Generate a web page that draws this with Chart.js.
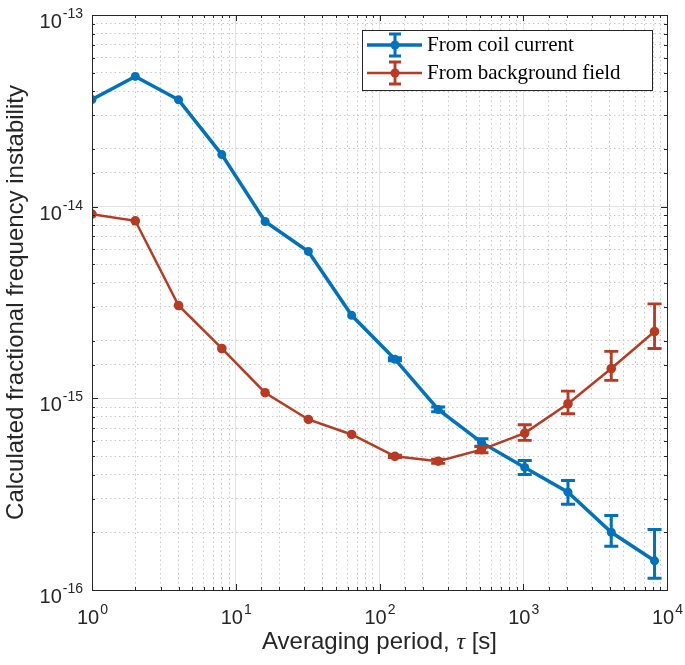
<!DOCTYPE html>
<html>
<head>
<meta charset="utf-8">
<script src="https://cdn.jsdelivr.net/npm/chart.js@4.4.0/dist/chart.umd.min.js"></script>
<style>
  html, body { margin: 0; padding: 0; background: #fff; }
</style>
</head>
<body>
<canvas id="chart" width="685" height="665"></canvas>
<script>
// averaging periods (s)
const tau = [1, 2, 4, 8, 16, 32, 64, 128, 256, 512, 1024, 2048, 4096, 8192];

// from coil current
const coil   = [3.62e-14, 4.78e-14, 3.61e-14, 1.87e-14, 8.37e-15, 5.84e-15, 2.71e-15, 1.60e-15, 8.75e-16, 5.89e-16, 4.36e-16, 3.24e-16, 2.00e-16, 1.42e-16];
const coilHi = [3.62e-14, 4.78e-14, 3.61e-14, 1.87e-14, 8.37e-15, 5.84e-15, 2.71e-15, 1.63e-15, 9.00e-16, 6.15e-16, 4.74e-16, 3.73e-16, 2.45e-16, 2.07e-16];
const coilLo = [3.62e-14, 4.78e-14, 3.61e-14, 1.87e-14, 8.37e-15, 5.84e-15, 2.71e-15, 1.57e-15, 8.50e-16, 5.62e-16, 4.01e-16, 2.80e-16, 1.69e-16, 1.15e-16];

// from background field
const bg   = [9.14e-15, 8.44e-15, 3.05e-15, 1.82e-15, 1.07e-15, 7.76e-16, 6.48e-16, 4.98e-16, 4.70e-16, 5.40e-16, 6.59e-16, 9.37e-16, 1.43e-15, 2.23e-15];
const bgHi = [9.14e-15, 8.44e-15, 3.05e-15, 1.82e-15, 1.07e-15, 7.76e-16, 6.48e-16, 5.05e-16, 4.82e-16, 5.60e-16, 7.28e-16, 1.09e-15, 1.76e-15, 3.11e-15];
const bgLo = [9.14e-15, 8.44e-15, 3.05e-15, 1.82e-15, 1.07e-15, 7.76e-16, 6.48e-16, 4.91e-16, 4.58e-16, 5.20e-16, 6.03e-16, 8.31e-16, 1.24e-15, 1.82e-15];

// decade tick labels
const xExp = ['0', '1', '2', '3', '4'];
const yExp = ['-16', '-15', '-14', '-13'];

const labels = ['From coil current', 'From background field'];
const BLUE = '#0072BD';
const RED = '#B83A22';
const AXIS = '#262626';

function isDecade(v) {
  const l = Math.log10(v);
  return Math.abs(l - Math.round(l)) < 1e-6;
}

const gridColor = ctx => (ctx.tick && isDecade(ctx.tick.value)) ? '#e3e3e3' : '#c8c8c8';
const gridDash = ctx => (ctx.tick && isDecade(ctx.tick.value)) ? [] : [1.5, 3];

// error bars, drawn with the y scale
const errorBars = {
  id: 'errorBars',
  afterDatasetDraw(chart, args) {
    const ds = chart.data.datasets[args.index];
    const y = chart.scales.y;
    const c = chart.ctx;
    c.save();
    c.strokeStyle = ds.borderColor;
    c.lineWidth = ds.errWidth;
    args.meta.data.forEach((pt, i) => {
      if (!(ds.errHi[i] > ds.errLo[i])) return;
      const top = y.getPixelForValue(ds.errHi[i]);
      const bot = y.getPixelForValue(ds.errLo[i]);
      c.beginPath();
      c.moveTo(pt.x, top); c.lineTo(pt.x, bot);
      c.moveTo(pt.x - 7, top); c.lineTo(pt.x + 7, top);
      c.moveTo(pt.x - 7, bot); c.lineTo(pt.x + 7, bot);
      c.stroke();
    });
    c.restore();
  }
};

// box, inner ticks, tick labels, titles and legend
const axesDeco = {
  id: 'axesDeco',
  afterDraw(chart) {
    const c = chart.ctx;
    const a = chart.chartArea;
    const xs = chart.scales.x, ys = chart.scales.y;
    c.save();
    c.strokeStyle = AXIS;
    c.lineWidth = 1;
    c.beginPath();
    xs.ticks.forEach(t => {
      const px = Math.round(xs.getPixelForValue(t.value)) + 0.5;
      const len = isDecade(t.value) ? 6 : 3;
      c.moveTo(px, a.bottom); c.lineTo(px, a.bottom - len);
      c.moveTo(px, a.top); c.lineTo(px, a.top + len);
    });
    ys.ticks.forEach(t => {
      const py = Math.round(ys.getPixelForValue(t.value)) + 0.5;
      const len = isDecade(t.value) ? 6 : 3;
      c.moveTo(a.left, py); c.lineTo(a.left + len, py);
      c.moveTo(a.right, py); c.lineTo(a.right - len, py);
    });
    c.stroke();
    c.strokeRect(Math.round(a.left) + 0.5, Math.round(a.top) + 0.5,
      Math.round(a.right - a.left), Math.round(a.bottom - a.top));

    c.fillStyle = AXIS;
    const base = '20px "Liberation Sans", Arial, sans-serif';
    const sup = '14px "Liberation Sans", Arial, sans-serif';
    // x labels
    xExp.forEach(e => {
      const px = xs.getPixelForValue(Math.pow(10, Number(e)));
      c.font = base; const w1 = c.measureText('10').width;
      c.font = sup; const w2 = c.measureText(e).width;
      const x0 = px - (w1 + w2) / 2;
      c.textAlign = 'left'; c.textBaseline = 'alphabetic';
      c.font = base; c.fillText('10', x0, a.bottom + 34);
      c.font = sup; c.fillText(e, x0 + w1 + 1, a.bottom + 24);
    });
    // y labels
    yExp.forEach(e => {
      const py = ys.getPixelForValue(Math.pow(10, Number(e)));
      c.font = sup; const w2 = c.measureText(e).width;
      c.font = base; const w1 = c.measureText('10').width;
      const xr = a.left - 9;
      c.textAlign = 'left'; c.textBaseline = 'alphabetic';
      c.font = base; c.fillText('10', xr - w2 - w1 - 1, py + 13);
      c.font = sup; c.fillText(e, xr - w2, py + 3);
    });

    // x title
    const tFont = '24px "Liberation Sans", Arial, sans-serif';
    const gFont = 'italic 24px "Liberation Serif", "Times New Roman", serif';
    const p1 = 'Averaging period, ', p2 = '\u03C4', p3 = ' [s]';
    c.font = tFont; const w1 = c.measureText(p1).width, w3 = c.measureText(p3).width;
    c.font = gFont; const w2 = c.measureText(p2).width;
    let tx = (a.left + a.right) / 2 - (w1 + w2 + w3) / 2;
    const ty = a.bottom + 59;
    c.font = tFont; c.fillText(p1, tx, ty); tx += w1;
    c.font = gFont; c.fillText(p2, tx, ty); tx += w2;
    c.font = tFont; c.fillText(p3, tx, ty);

    // y title
    c.save();
    c.translate(23, (a.top + a.bottom) / 2);
    c.rotate(-Math.PI / 2);
    c.textAlign = 'center';
    c.font = tFont;
    c.fillText('Calculated fractional frequency instability', 0, 0);
    c.restore();

    // legend
    const lx = 362, ly = 30, lw = 290, lh = 60;
    c.fillStyle = '#fff';
    c.fillRect(lx, ly, lw, lh);
    c.strokeStyle = AXIS;
    c.lineWidth = 1;
    c.strokeRect(lx + 0.5, ly + 0.5, lw, lh);
    chart.data.datasets.forEach((ds, i) => {
      const cy = ly + 15 + i * 28;
      c.strokeStyle = ds.borderColor;
      c.fillStyle = ds.borderColor;
      c.lineWidth = ds.borderWidth;
      c.beginPath(); c.moveTo(lx + 5, cy); c.lineTo(lx + 60, cy); c.stroke();
      c.lineWidth = ds.errWidth;
      c.beginPath();
      c.moveTo(lx + 33, cy - 11); c.lineTo(lx + 33, cy + 11);
      c.moveTo(lx + 27, cy - 11); c.lineTo(lx + 39, cy - 11);
      c.moveTo(lx + 27, cy + 11); c.lineTo(lx + 39, cy + 11);
      c.stroke();
      c.beginPath(); c.arc(lx + 33, cy, 4.5, 0, Math.PI * 2); c.fill();
      c.fillStyle = '#000';
      c.font = '21px "Liberation Serif", "Times New Roman", serif';
      c.textAlign = 'left';
      c.fillText(ds.label, lx + 65, cy + 6);
    });
    c.restore();
  }
};

const ctx = document.getElementById('chart').getContext('2d');
new Chart(ctx, {
  type: 'line',
  data: {
    datasets: [
      {
        label: labels[0],
        data: tau.map((t, i) => ({ x: t, y: coil[i] })),
        errHi: coilHi, errLo: coilLo, errWidth: 3,
        borderColor: BLUE, backgroundColor: BLUE,
        borderWidth: 3.5, pointRadius: 4.5, pointBorderWidth: 0,
        pointBackgroundColor: BLUE, tension: 0, order: 1
      },
      {
        label: labels[1],
        data: tau.map((t, i) => ({ x: t, y: bg[i] })),
        errHi: bgHi, errLo: bgLo, errWidth: 2.8,
        borderColor: RED, backgroundColor: RED,
        borderWidth: 2.5, pointRadius: 4.8, pointBorderWidth: 0,
        pointBackgroundColor: RED, tension: 0, order: 0
      }
    ]
  },
  options: {
    responsive: false,
    animation: false,
    layout: { padding: { left: 92, right: 18, top: 15, bottom: 75 } },
    plugins: { legend: { display: false }, tooltip: { enabled: false } },
    scales: {
      x: {
        type: 'logarithmic', min: 1, max: 10000,
        ticks: { display: false, autoSkip: false },
        grid: { drawTicks: false, color: gridColor, lineWidth: 1 },
        border: { display: false, dash: gridDash }
      },
      y: {
        type: 'logarithmic', min: 1e-16, max: 1e-13,
        ticks: { display: false, autoSkip: false },
        grid: { drawTicks: false, color: gridColor, lineWidth: 1 },
        border: { display: false, dash: gridDash }
      }
    }
  },
  plugins: [errorBars, axesDeco]
});
</script>
</body>
</html>
